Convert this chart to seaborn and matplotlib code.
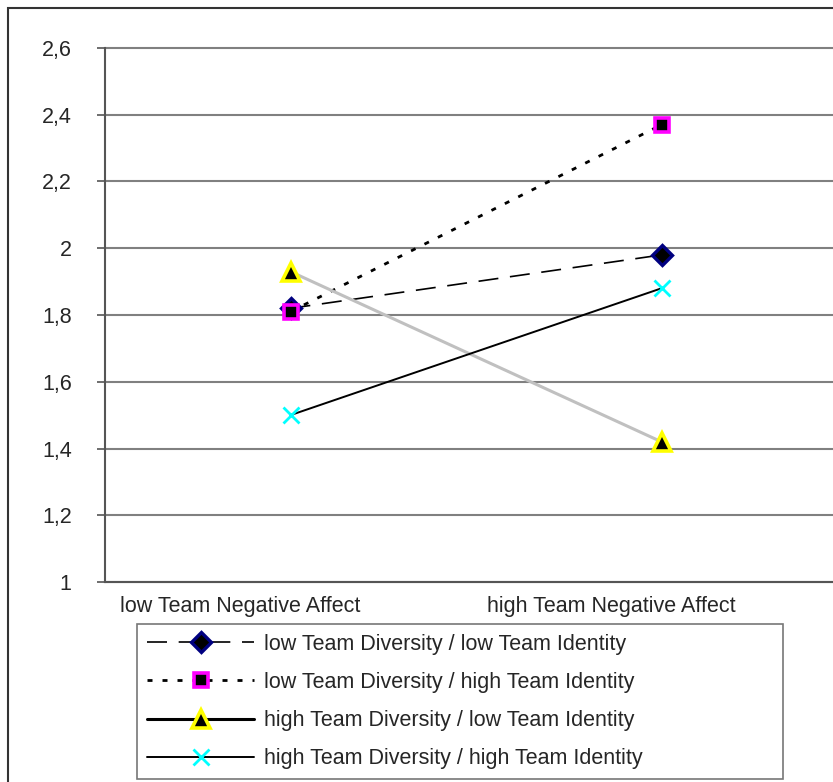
import numpy as np
import pandas as pd
import matplotlib
matplotlib.use("Agg")
import matplotlib.pyplot as plt
import matplotlib.patches as mpatches
import matplotlib.transforms as mtransforms
from matplotlib.lines import Line2D
import seaborn as sns

# ----------------------------------------------------------
# DATA
# ----------------------------------------------------------

categories = ["low Team Negative Affect", "high Team Negative Affect"]

low_div_low_id = [1.82, 1.98]
low_div_high_id = [1.81, 2.37]
high_div_low_id = [1.93, 1.42]
high_div_high_id = [1.50, 1.88]

series_names = [
    "low Team Diversity / low Team Identity",
    "low Team Diversity / high Team Identity",
    "high Team Diversity / low Team Identity",
    "high Team Diversity / high Team Identity",
]

y_ticks = [1, 1.2, 1.4, 1.6, 1.8, 2, 2.2, 2.4, 2.6]

# ----------------------------------------------------------
# STYLE
# ----------------------------------------------------------

sns.set_style("white")
plt.rcParams['font.family'] = ['Liberation Sans', 'DejaVu Sans']
FS = 15.5

styles = [
    dict(color="black", ls=(0, (12, 7)), lw=1.2, marker="D", ms=10,
         mfc="black", mec="#000080", mew=2.4, leg_color="black", leg_lw=1.2),
    dict(color="black", ls=(0, (1.8, 3.6)), lw=2.0, marker="s", ms=10,
         mfc="black", mec="#ff00ff", mew=2.6, leg_color="black", leg_lw=2.0),
    dict(color="#c0c0c0", ls="-", lw=2.2, marker="^", ms=12.5,
         mfc="black", mec="#ffff00", mew=2.6, leg_color="black", leg_lw=2.2),
    dict(color="black", ls="-", lw=1.4, marker="x", ms=12,
         mfc="#00ffff", mec="#00ffff", mew=2.0, leg_color="black", leg_lw=1.4),
]

all_values = [low_div_low_id, low_div_high_id, high_div_low_id, high_div_high_id]

fig = plt.figure(figsize=(8.33, 7.82), dpi=100)
ax = fig.add_axes([105 / 833, 1 - 582 / 782, 742 / 833, 534 / 782])

# outer chart frame
frame = mpatches.Rectangle((8 / 833, -0.05), 1.2, 1.05 - 8 / 782,
                           transform=fig.transFigure, fill=False,
                           edgecolor="#333333", lw=1.5, zorder=0)
fig.patches.append(frame)

for name, vals, st in zip(series_names, all_values, styles):
    df = pd.DataFrame({"x": [0, 1], "y": vals})
    sns.lineplot(data=df, x="x", y="y", ax=ax, color=st["color"],
                 linestyle=st["ls"], linewidth=st["lw"], zorder=2)
    ax.plot([0, 1], vals, ls="none", marker=st["marker"], ms=st["ms"],
            mfc=st["mfc"], mec=st["mec"], mew=st["mew"], zorder=3)

ax.set_xlim(-0.5, 1.5)
ax.set_ylim(1, 2.6)
ax.set_xlabel("")
ax.set_ylabel("")

ax.set_yticks(y_ticks)
ax.set_yticklabels([f"{v:g}".replace(".", ",") for v in y_ticks], fontsize=FS)
ax.yaxis.grid(True, color="#808080", lw=1.5, zorder=1)
ax.set_axisbelow(True)
for gl in ax.get_ygridlines():
    gl.set_clip_on(False)

ax.set_xticks([0, 1])
ax.set_xticklabels(categories, fontsize=FS)
ax.set_xticks([0.5], minor=True)
ax.tick_params(axis="x", which="major", length=0, pad=10)
ax.tick_params(axis="x", which="minor", length=6, direction="in",
               color="#555555", width=1.2)
ax.tick_params(axis="y", which="major", length=6, direction="out",
               color="#555555", width=1.2, pad=18, left=True)

# category labels sit a little left of the category centre
shift = mtransforms.ScaledTranslation(-0.5, 0, fig.dpi_scale_trans)
for lab in ax.get_xticklabels():
    lab.set_transform(lab.get_transform() + shift)

for side in ["top", "right"]:
    ax.spines[side].set_visible(False)
for side in ["left", "bottom"]:
    ax.spines[side].set_color("#555555")
    ax.spines[side].set_linewidth(1.5)

handles = [
    Line2D([0], [0], color=st["leg_color"], ls=st["ls"], lw=st["leg_lw"],
           marker=st["marker"], ms=st["ms"], mfc=st["mfc"], mec=st["mec"],
           mew=st["mew"])
    for st in styles
]
leg = fig.legend(handles, series_names, loc="upper left",
                 bbox_to_anchor=(137 / 833, 1 - 780 / 782, 646 / 833, 156 / 782),
                 mode="expand", fontsize=FS,
                 handlelength=5.0, frameon=True, fancybox=False,
                 edgecolor="#555555", borderaxespad=0, labelspacing=0.8,
                 borderpad=0.45, handletextpad=0.45)
leg.get_frame().set_linewidth(1.2)

fig.savefig("out.png", dpi=100)
